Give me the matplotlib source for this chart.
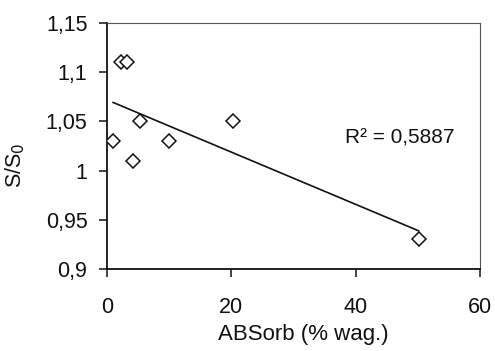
import numpy as np
import matplotlib
matplotlib.use("Agg")
import matplotlib.pyplot as plt
from matplotlib.ticker import FuncFormatter


# Data
absorb = [1.0, 2.2, 3.2, 4.2, 5.3, 10.0, 20.2, 50.1]
s_ratio = [1.03, 1.11, 1.11, 1.01, 1.05, 1.03, 1.05, 0.93]
r2_label = "R\u00b2 = 0,5887"

x_ticks = [0, 20, 40, 60]
y_ticks = [0.9, 0.95, 1.0, 1.05, 1.1, 1.15]


def comma_fmt(v, pos):
    return ("%g" % round(v, 4)).replace(".", ",")


plt.rcParams["font.family"] = ["Liberation Sans", "DejaVu Sans"]

fig = plt.figure(figsize=(4.95, 3.51), dpi=100)
ax = fig.add_axes([0.216, 0.234, 0.754, 0.700])

ax.plot(
    absorb, s_ratio,
    linestyle="none",
    marker="D",
    markersize=7.6,
    markerfacecolor="white",
    markeredgecolor="#111111",
    markeredgewidth=1.1,
    zorder=3
)

# linear trend line across the data range
slope, intercept = np.polyfit(absorb, s_ratio, 1)
xs = np.array([min(absorb), max(absorb)])
ax.plot(xs, slope * xs + intercept, color="#111111", linewidth=1.2, zorder=2)

ax.text(38.3, 1.033, r2_label, fontsize=15, color="#111111", va="center")

ax.set_xlim(0, 60)
ax.set_ylim(0.9, 1.15)
ax.set_xticks(x_ticks)
ax.set_yticks(y_ticks)
ax.xaxis.set_major_formatter(FuncFormatter(comma_fmt))
ax.yaxis.set_major_formatter(FuncFormatter(comma_fmt))

ax.tick_params(direction="out", length=6, width=1.1, labelsize=15.5,
               colors="#111111")
ax.tick_params(axis="x", pad=14)
ax.tick_params(axis="y", pad=8)

ax.set_xlabel("ABSorb (% wag.)", fontsize=16, color="#111111")
ax.set_ylabel("S/S$_0$", fontsize=15.5, color="#111111")
ax.xaxis.set_label_coords(0.525, -0.225)
ax.yaxis.set_label_coords(-0.215, 0.42)

for side in ["left", "bottom"]:
    ax.spines[side].set_linewidth(1.3)
    ax.spines[side].set_color("#111111")
for side in ["top", "right"]:
    ax.spines[side].set_linewidth(0.8)
    ax.spines[side].set_color("#555555")

plt.savefig("out.png", dpi=100)
plt.close()
